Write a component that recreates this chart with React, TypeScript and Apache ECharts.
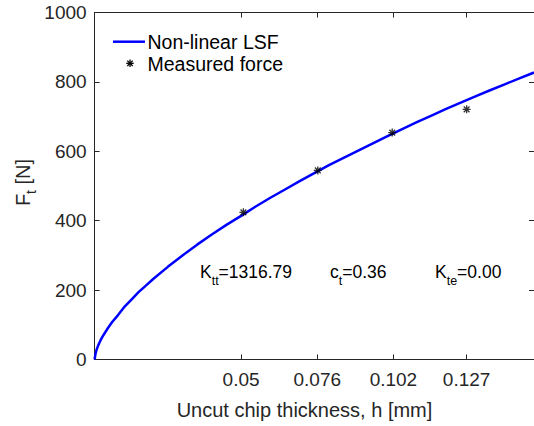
import React, { useEffect, useRef } from "react";
import * as echarts from "echarts";

// Fitted curve: uncut chip thickness h [mm] vs force Ft [N]
const curveH = [0, 0.0003, 0.0007, 0.0012, 0.002, 0.003, 0.0045, 0.006, 0.008, 0.01, 0.0125, 0.015, 0.0175, 0.02, 0.025, 0.03, 0.035, 0.04, 0.045, 0.05, 0.055, 0.06, 0.065, 0.07, 0.075, 0.08, 0.085, 0.09, 0.095, 0.1, 0.105, 0.11, 0.115, 0.12, 0.125, 0.13, 0.135, 0.14, 0.145, 0.15];
const curveF = [0, 16, 29, 40, 55, 70, 90, 108, 128, 150, 172, 194, 213, 232, 267, 300, 331, 360, 388, 414, 441, 466, 490, 514, 537, 560, 581, 602, 623, 644, 664, 684, 703, 722, 740, 758, 776, 793, 810, 827];

// Measured forces
const measuredH = [0.0508, 0.0762, 0.1016, 0.127];
const measuredF = [424, 545, 654, 721];

// Tick labels
const xTicks = [0.05, 0.076, 0.102, 0.127];
const yTicks = [0, 200, 400, 600, 800, 1000];

// Annotation texts
const annotations = [
  { main: "K", sub: "tt", rest: "=1316.79" },
  { main: "c", sub: "t", rest: "=0.36" },
  { main: "K", sub: "te", rest: "=0.00" },
];

const FONT = "'Liberation Sans', Arial, Helvetica, sans-serif";
const AXIS = "#262626";
const STAR = "path://M0,-5L0,5M-5,0L5,0M-3.6,-3.6L3.6,3.6M-3.6,3.6L3.6,-3.6";

export default function App() {
  const ref = useRef<HTMLDivElement>(null);
  useEffect(() => {
    if (!ref.current) return;
    const chart = echarts.init(ref.current, undefined, { renderer: "svg" });

    const axisCommon = {
      type: "value",
      splitLine: { show: false },
      axisLine: { show: true, onZero: false, lineStyle: { color: AXIS, width: 1 } },
    };

    const annoX = [200, 330, 435];
    const annoGraphics = annotations.map((a, i) => ({
      type: "text",
      x: annoX[i],
      y: 271.5,
      style: {
        text: `{m|${a.main}}{s|${a.sub}}{m|${a.rest}}`,
        textAlign: "left",
        textVerticalAlign: "middle",
        fill: "#000",
        fontFamily: FONT,
        fontSize: 17.5,
        rich: {
          m: { fontSize: 17.5, fontFamily: FONT, fill: "#000", verticalAlign: "middle" },
          s: { fontSize: 12.5, fontFamily: FONT, fill: "#000", verticalAlign: "middle", padding: [18, 0, 0, 0] },
        },
      },
    }));

    const sc = 0.75;
    const cx = 130, cy = 63.3;
    const starLines = [
      [0, -5, 0, 5],
      [-5, 0, 5, 0],
      [-3.6, -3.6, 3.6, 3.6],
      [-3.6, 3.6, 3.6, -3.6],
    ].map((l) => ({
      type: "line",
      shape: { x1: cx + l[0] * sc, y1: cy + l[1] * sc, x2: cx + l[2] * sc, y2: cy + l[3] * sc },
      style: { stroke: "#000", lineWidth: 1.3 },
    }));

    const option = {
      animation: false,
      grid: { left: 94.6, top: 12.5, width: 442.2, height: 347 },
      xAxis: [
        {
          ...axisCommon,
          position: "bottom",
          min: 0,
          max: 0.15,
          axisTick: { show: true, inside: true, length: 5, customValues: xTicks, lineStyle: { color: AXIS } },
          axisLabel: {
            show: true,
            customValues: xTicks,
            formatter: (v: number) => String(v),
            color: AXIS,
            fontSize: 19,
            fontFamily: FONT,
            margin: 10,
          },
        },
        {
          ...axisCommon,
          position: "top",
          min: 0,
          max: 0.15,
          axisTick: { show: true, inside: true, length: 5, customValues: xTicks, lineStyle: { color: AXIS } },
          axisLabel: { show: false },
        },
      ],
      yAxis: [
        {
          ...axisCommon,
          position: "left",
          min: 0,
          max: 1000,
          interval: 200,
          axisTick: { show: true, inside: true, length: 5, customValues: yTicks, lineStyle: { color: AXIS } },
          axisLabel: {
            show: true,
            customValues: yTicks,
            formatter: (v: number) => String(v),
            color: AXIS,
            fontSize: 19,
            fontFamily: FONT,
            margin: 8,
          },
        },
        {
          ...axisCommon,
          position: "right",
          min: 0,
          max: 1000,
          interval: 200,
          axisTick: { show: true, inside: true, length: 5, customValues: yTicks, lineStyle: { color: AXIS } },
          axisLabel: { show: false },
        },
      ],
      series: [
        {
          name: "Non-linear LSF",
          type: "line",
          xAxisIndex: 0,
          yAxisIndex: 0,
          data: curveH.map((h, i) => [h, curveF[i]]),
          symbol: "none",
          showSymbol: false,
          smooth: false,
          lineStyle: { color: "#0000ff", width: 2.5, join: "round" },
          z: 3,
        },
        {
          name: "Measured force",
          type: "scatter",
          xAxisIndex: 0,
          yAxisIndex: 0,
          data: measuredH.map((h, i) => [h, measuredF[i]]),
          symbol: STAR,
          symbolSize: 8,
          itemStyle: { color: "#000", borderColor: "#000", borderWidth: 1.3 },
          z: 4,
        },
      ],
      graphic: [
        {
          type: "text",
          x: 304.5,
          y: 410,
          style: {
            text: "Uncut chip thickness, h [mm]",
            textAlign: "center",
            textVerticalAlign: "middle",
            fill: AXIS,
            fontFamily: FONT,
            fontSize: 20,
          },
        },
        {
          type: "text",
          x: 22.5,
          y: 182.5,
          rotation: Math.PI / 2,
          style: {
            text: "{m|F}{s|t}{m| [N]}",
            textAlign: "center",
            textVerticalAlign: "middle",
            fill: AXIS,
            fontFamily: FONT,
            fontSize: 20,
            rich: {
              m: { fontSize: 20, fontFamily: FONT, fill: AXIS, verticalAlign: "middle" },
              s: { fontSize: 14, fontFamily: FONT, fill: AXIS, verticalAlign: "middle", padding: [17, 0, 0, 0] },
            },
          },
        },
        {
          type: "line",
          shape: { x1: 113, y1: 41.7, x2: 145, y2: 41.7 },
          style: { stroke: "#0000ff", lineWidth: 2.5 },
        },
        {
          type: "text",
          x: 147.5,
          y: 41.7,
          style: {
            text: "Non-linear LSF",
            textAlign: "left",
            textVerticalAlign: "middle",
            fill: "#000",
            fontFamily: FONT,
            fontSize: 19.5,
          },
        },
        ...starLines,
        {
          type: "text",
          x: 147.5,
          y: 63.5,
          style: {
            text: "Measured force",
            textAlign: "left",
            textVerticalAlign: "middle",
            fill: "#000",
            fontFamily: FONT,
            fontSize: 19.5,
          },
        },
        ...annoGraphics,
      ],
    };

    chart.setOption(option as any);
    return () => chart.dispose();
  }, []);

  return (
    <div
      ref={ref}
      style={{ position: "absolute", left: 0, top: 0, width: 534, height: 426, background: "#fff" }}
    />
  );
}
